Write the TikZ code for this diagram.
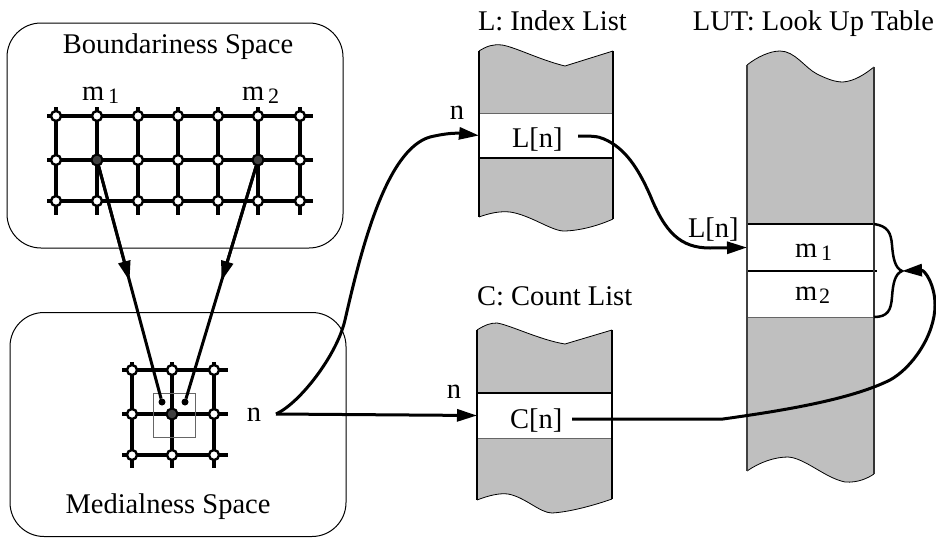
\documentclass[tikz,border=0pt]{standalone}
\usepackage{fontspec}
\setmainfont{Liberation Serif}
\usetikzlibrary{arrows.meta,calc}
\newcommand\lblfont{\fontsize{28.5}{34}\selectfont}
\newcommand\subfont{\fontsize{22}{26}\selectfont}
\newcommand\msub[1]{m\hspace{4pt}\raisebox{-3pt}{\subfont #1}}

\begin{document}
\begin{tikzpicture}[x=1pt,y=-1pt,
  every node/.style={inner sep=0pt, outer sep=0pt},
  txt/.style={font=\lblfont},
  spacebox/.style={draw=black, line width=1pt, rounded corners=34pt},
  gridline/.style={line width=3.2pt},
  opennode/.style={circle, draw=black, fill=white, line width=2.4pt, minimum size=10pt},
  fillnode/.style={circle, draw=black, fill=black!75, line width=2pt, minimum size=11pt},
  smalldot/.style={circle, fill=black, minimum size=7pt},
  colfill/.style={fill=black!25},
  coledge/.style={line width=2.5pt},
  wave/.style={line width=0.8pt},
  cell/.style={fill=white},
  conn/.style={line width=3pt},
  arrowed/.style={-{Triangle[length=20pt,width=12pt]}}
]
\useasboundingbox (0,0) rectangle (936,538);

% the two spaces
\node[spacebox, minimum width=336pt, minimum height=225pt] (bspace) at (175,135.5) {};
\node[spacebox, minimum width=336pt, minimum height=224pt] (mspace) at (178,424.5) {};

% boundariness grid
\foreach \x in {56,97,138,178,218,258,300} \draw[gridline] (\x,107) -- (\x,215);
\foreach \y in {116,160,201} \draw[gridline] (47,\y) -- (313,\y);
\foreach \x [count=\i] in {56,97,138,178,218,258,300}
  \foreach \y [count=\j] in {116,160,201}
    \node[opennode] (b\i-\j) at (\x,\y) {};
\node[fillnode] (bm1) at (97,160) {};
\node[fillnode] (bm2) at (258,160) {};

% medialness grid
\foreach \x in {132,172,214} \draw[gridline] (\x,362) -- (\x,468);
\foreach \y in {370,414,455} \draw[gridline] (122,\y) -- (228,\y);
\node[draw=black!60, line width=1pt, minimum width=42pt, minimum height=44pt] (win) at (174,415) {};
\foreach \x [count=\i] in {132,172,214}
  \foreach \y [count=\j] in {370,414,455}
    \node[opennode] (g\i-\j) at (\x,\y) {};
\node[fillnode] (mc) at (172,414) {};
\node[smalldot] (d1) at (162,402) {};
\node[smalldot] (d2) at (185,402) {};

% L: index list column
\fill[colfill] (479,51) .. controls (487,46) and (493,44) .. (502,45) .. controls (515,47) and (540,60) .. (565,66) -- (613,51)
  -- (613,219) .. controls (600,225) and (580,231) .. (563,231) .. controls (550,230) and (530,215) .. (510,212) .. controls (500,211) and (490,213) .. (479,217) -- cycle;
\draw[wave] (479,51) .. controls (487,46) and (493,44) .. (502,45) .. controls (515,47) and (540,60) .. (565,66) -- (613,51);
\draw[wave] (613,219) .. controls (600,225) and (580,231) .. (563,231) .. controls (550,230) and (530,215) .. (510,212) .. controls (500,211) and (490,213) .. (479,217);
\node[cell, minimum width=134pt, minimum height=45pt] (Lcell) at (546,135.5) {};
\draw[line width=1pt, black!60] (Lcell.north west) -- (Lcell.north east);
\draw[line width=2pt] (Lcell.south west) -- (Lcell.south east);
\draw[coledge] (479,51) -- (479,217);
\draw[coledge] (613,51) -- (613,219);

% C: count list column
\fill[colfill] (477,330) .. controls (485,325) and (490,323) .. (497,323) .. controls (510,325) and (540,340) .. (565,344) -- (612,330)
  -- (612,499) .. controls (595,505) and (570,512) .. (552,513) .. controls (540,513) and (525,497) .. (508,494) .. controls (500,493) and (490,495) .. (477,500) -- cycle;
\draw[wave] (477,330) .. controls (485,325) and (490,323) .. (497,323) .. controls (510,325) and (540,340) .. (565,344) -- (612,330);
\draw[wave] (612,499) .. controls (595,505) and (570,512) .. (552,513) .. controls (540,513) and (525,497) .. (508,494) .. controls (500,493) and (490,495) .. (477,500);
\node[cell, minimum width=135pt, minimum height=45pt] (Ccell) at (544.5,415.5) {};
\draw[line width=2pt] (Ccell.north west) -- (Ccell.north east);
\draw[line width=1pt, black!60] (Ccell.south west) -- (Ccell.south east);
\draw[coledge] (477,330) -- (477,500);
\draw[coledge] (612,330) -- (612,499);

% LUT column
\fill[colfill] (747,65) .. controls (757,57) and (770,51) .. (780,51) .. controls (795,51) and (805,68) .. (817,74) .. controls (827,79) and (835,82) .. (843,82) .. controls (855,81) and (865,74) .. (874,67)
  -- (874,474) .. controls (868,478) and (858,483) .. (845,482) .. controls (825,478) and (805,458) .. (788,457) .. controls (775,457) and (760,462) .. (747,471) -- cycle;
\draw[wave] (747,65) .. controls (757,57) and (770,51) .. (780,51) .. controls (795,51) and (805,68) .. (817,74) .. controls (827,79) and (835,82) .. (843,82) .. controls (855,81) and (865,74) .. (874,67);
\draw[wave] (874,474) .. controls (868,478) and (858,483) .. (845,482) .. controls (825,478) and (805,458) .. (788,457) .. controls (775,457) and (760,462) .. (747,471);
\node[cell, minimum width=127pt, minimum height=47pt] (m1cell) at (810.5,247.5) {};
\node[cell, minimum width=127pt, minimum height=46pt] (m2cell) at (810.5,294) {};
\draw[line width=2pt] (m1cell.north west) -- (m1cell.north east);
\draw[line width=2pt] (m1cell.south west) -- ([xshift=3pt]m1cell.south east);
\draw[line width=1pt, black!60] (m2cell.south west) -- (m2cell.south east);
\draw[line width=2pt, black!75] (747,65) -- (747,471);
\draw[line width=2pt, black!80] (874,67) -- (874,474);

% texts
\node[txt, anchor=base] (tb) at (178,53) {Boundariness Space};
\node[txt, anchor=base] (tm) at (168,513) {Medialness Space};
\node[txt, anchor=base west] (lm1) at (82,100) {\msub{1}};
\node[txt, anchor=base west] (lm2) at (242,100) {\msub{2}};
\node[txt, anchor=base] (nlab) at (254,421) {n};
\node[txt, anchor=base west] (tL) at (478,30) {L: Index List};
\node[txt, anchor=base west] (tC) at (477,305) {C: Count List};
\node[txt, anchor=base east] (tLUT) at (934,30) {LUT: Look Up Table};
\node[txt, anchor=base] (n1) at (457,119) {n};
\node[txt, anchor=base] (n2) at (454,398) {n};
\node[txt, anchor=base west] (Ltxt) at (512,147) {L[n]};
\node[txt, anchor=base west] (Ctxt) at (510,428) {C[n]};
\node[txt, anchor=base west] (Llut) at (688,237) {L[n]};
\node[txt, anchor=base west] (lut1) at (795,257) {\msub{1}};
\node[txt, anchor=base west] (lut2) at (795,300) {m\hspace{2pt}\raisebox{-3pt}{\subfont 2}};

% connectors between the spaces
\draw[conn] (bm1) -- (d1);
\draw[conn, arrowed] (bm1) -- ($(bm1)!0.5!(d1)$);
\draw[conn] (bm2) -- (d2);
\draw[conn, arrowed] (bm2) -- ($(bm2)!0.5!(d2)$);

% connectors to the lists
\coordinate (nout) at (276,414);
\draw[conn, arrowed] (nout) .. controls (300,403) and (337,355) .. (345,320)
  .. controls (360,255) and (385,150) .. (430,137)
  .. controls (455,131) and (465,134) .. (Lcell.west);
\draw[conn, arrowed] (nout) -- (Ccell.west);

\coordinate (lstart) at (578,136);
\draw[conn, arrowed] (lstart) .. controls (590,136) and (598,136) .. (604,139)
  .. controls (625,148) and (638,168) .. (650,195)
  .. controls (665,232) and (680,248) .. (710,248) -- (m1cell.west);

% brace joining the two table entries
\coordinate (bracetip) at (902,271);
\draw[line width=2.5pt] (m1cell.north east) .. controls (888,226) and (891,233) .. (892,245)
  .. controls (893,258) and (895,268) .. (bracetip)
  .. controls (895,274) and (893,283) .. (892,297)
  .. controls (891,310) and (888,317) .. (m2cell.south east);

\coordinate (cstart) at (572,419);
\draw[conn, arrowed] (cstart) -- (723,419)
  .. controls (780,411) and (850,400) .. (890,380)
  .. controls (912,368) and (935,335) .. (935,305)
  .. controls (935,285) and (925,270) .. (bracetip);
\end{tikzpicture}
\end{document}
